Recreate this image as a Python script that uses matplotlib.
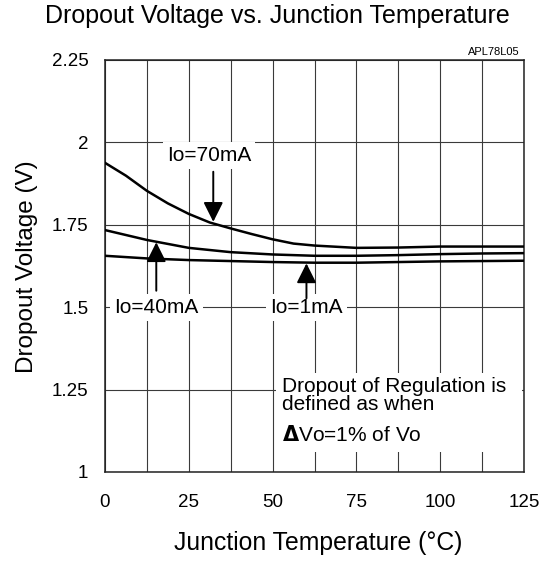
import numpy as np
import matplotlib
matplotlib.use('Agg')
from matplotlib import pyplot as plt
from matplotlib.patches import Rectangle

plt.rcParams['font.family'] = ['Liberation Sans', 'DejaVu Sans']

# Curves
temp_70 = [0, 6.25, 12.5, 18.75, 25, 31.25, 37.5, 43.75, 50, 56.25, 62.5, 75, 87.5, 100, 112.5, 125]
v_70ma = [1.938, 1.899, 1.853, 1.815, 1.783, 1.757, 1.739, 1.722, 1.706, 1.693, 1.687,
          1.680, 1.681, 1.684, 1.684, 1.684]
temp = [0, 12.5, 25, 37.5, 50, 62.5, 75, 87.5, 100, 112.5, 125]
v_40ma = [1.734, 1.704, 1.680, 1.667, 1.660, 1.656, 1.656, 1.658, 1.661, 1.663, 1.664]
v_1ma = [1.656, 1.648, 1.643, 1.640, 1.637, 1.635, 1.635, 1.637, 1.639, 1.640, 1.641]

x_ticks = [0, 25, 50, 75, 100, 125]
y_ticks = [1, 1.25, 1.5, 1.75, 2, 2.25]
y_ticklabels = ['1', '1.25', '1.5', '1.75', '2', '2.25']

W, H = 551, 562
fig = plt.figure(figsize=(W / 100, H / 100), dpi=100)
ax = fig.add_axes([105 / W, 1 - 472 / H, (524 - 105) / W, (472 - 60) / H])

ax.set_xlim(0, 125)
ax.set_ylim(1, 2.25)
ax.set_xticks(x_ticks)
ax.set_xticks(np.arange(12.5, 125, 25), minor=True)
ax.set_yticks(y_ticks)
ax.set_yticklabels(y_ticklabels)
ax.tick_params(which='both', length=0, labelsize=13.5)
ax.tick_params(axis='y', pad=12)
ax.tick_params(axis='x', pad=16)
ax.set_axisbelow(True)
ax.grid(True, which='both', axis='x', color='#3a3a3a', lw=0.8)
ax.grid(True, which='major', axis='y', color='#3a3a3a', lw=0.8)
for s in ax.spines.values():
    s.set_linewidth(1.1)
    s.set_color('#222222')

ax.plot(temp_70, v_70ma, color='black', lw=1.8, zorder=3)
ax.plot(temp, v_40ma, color='black', lw=1.8, zorder=3)
ax.plot(temp, v_1ma, color='black', lw=1.8, zorder=3)

box = dict(facecolor='white', edgecolor='none', pad=3)
txt = dict(fontsize=15, color='black', zorder=4)
arrow = dict(arrowstyle='-|>,head_length=0.6,head_width=0.3', mutation_scale=20,
             color='black', lw=1.4, shrinkA=0, shrinkB=0)

# Io=70mA
ax.text(31, 1.9436, 'Io=70mA', ha='center', va='baseline', bbox=box, **txt)
ax.annotate('', xy=(32.3, 1.759), xytext=(32.3, 1.911), arrowprops=arrow, zorder=4)
# Io=40mA
ax.text(15.4, 1.4815, 'Io=40mA', ha='center', va='baseline', bbox=box, **txt)
ax.annotate('', xy=(15.3, 1.697), xytext=(15.3, 1.55), arrowprops=arrow, zorder=4)
# Io=1mA
ax.text(60, 1.4815, 'Io=1mA', ha='center', va='baseline', bbox=box, **txt)
ax.annotate('', xy=(60.1, 1.633), xytext=(60.1, 1.527), arrowprops=arrow, zorder=4)

# note box
ax.add_patch(Rectangle((51, 1.06), 73.5, 0.24, facecolor='white', edgecolor='none', zorder=2))
ax.text(52.8, 1.2436, 'Dropout of Regulation is', ha='left', va='baseline', **txt)
ax.text(52.8, 1.188, 'defined as when', ha='left', va='baseline', **txt)
ax.text(52.8, 1.095, r'$\mathbf{\Delta}$Vo=1% of Vo', ha='left', va='baseline', **txt)

fig.text(277 / W, 1 - 16 / H, 'Dropout Voltage vs. Junction Temperature',
         ha='center', va='center', fontsize=18)
fig.text(520 / W, 1 - 52 / H, 'APL78L05', ha='right', va='center', fontsize=8)
fig.text(318 / W, 1 - 543 / H, 'Junction Temperature (\u00b0C)',
         ha='center', va='center', fontsize=17.8)
fig.text(27 / W, 1 - 267 / H, 'Dropout Voltage (V)', rotation=90,
         ha='center', va='center', fontsize=17.5)

fig.savefig('out.png', dpi=100)
